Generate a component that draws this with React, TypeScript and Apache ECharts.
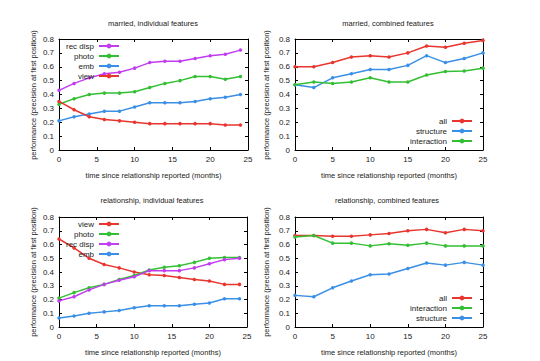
import React, { useEffect, useRef } from "react";
import * as echarts from "echarts";

// x positions
const monthsIndividual = [0, 2, 4, 6, 8, 10, 12, 14, 16, 18, 20, 22, 24];
const monthsCombined = [0, 2.5, 5, 7.5, 10, 12.5, 15, 17.5, 20, 22.5, 25];
const xTicks = [0, 5, 10, 15, 20, 25];
const yTicks = [0, 0.1, 0.2, 0.3, 0.4, 0.5, 0.6, 0.7, 0.8];

// married, individual features
const marriedRecDisp = [0.43, 0.48, 0.52, 0.55, 0.56, 0.59, 0.63, 0.64, 0.64, 0.66, 0.68, 0.69, 0.72];
const marriedPhoto = [0.33, 0.37, 0.40, 0.41, 0.41, 0.42, 0.45, 0.48, 0.50, 0.53, 0.53, 0.51, 0.53];
const marriedEmb = [0.21, 0.24, 0.26, 0.28, 0.28, 0.31, 0.34, 0.34, 0.34, 0.35, 0.37, 0.38, 0.40];
const marriedView = [0.35, 0.29, 0.24, 0.22, 0.21, 0.20, 0.19, 0.19, 0.19, 0.19, 0.19, 0.18, 0.18];

// married, combined features
const marriedAll = [0.60, 0.60, 0.63, 0.67, 0.68, 0.67, 0.70, 0.75, 0.74, 0.77, 0.79];
const marriedStructure = [0.47, 0.45, 0.52, 0.55, 0.58, 0.58, 0.61, 0.68, 0.63, 0.66, 0.70];
const marriedInteraction = [0.47, 0.49, 0.48, 0.49, 0.52, 0.49, 0.49, 0.54, 0.565, 0.57, 0.59];

// relationship, individual features
const relView = [0.64, 0.575, 0.50, 0.455, 0.43, 0.40, 0.38, 0.375, 0.36, 0.345, 0.335, 0.31, 0.31];
const relPhoto = [0.21, 0.25, 0.285, 0.31, 0.345, 0.375, 0.415, 0.435, 0.445, 0.47, 0.50, 0.505, 0.505];
const relRecDisp = [0.19, 0.22, 0.27, 0.31, 0.34, 0.365, 0.41, 0.41, 0.41, 0.43, 0.46, 0.49, 0.50];
const relEmb = [0.065, 0.08, 0.10, 0.11, 0.12, 0.14, 0.155, 0.155, 0.155, 0.165, 0.175, 0.205, 0.205];

// relationship, combined features
const relAll = [0.665, 0.665, 0.66, 0.66, 0.67, 0.68, 0.70, 0.71, 0.685, 0.71, 0.70];
const relInteraction = [0.655, 0.665, 0.61, 0.61, 0.59, 0.605, 0.595, 0.61, 0.59, 0.59, 0.59];
const relStructure = [0.23, 0.22, 0.285, 0.335, 0.38, 0.385, 0.425, 0.465, 0.45, 0.47, 0.45];

const titles = [
  "married, individual features",
  "married, combined features",
  "relationship, individual features",
  "relationship, combined features",
];
const xName = "time since relationship reported (months)";
const yName = "performance (precision at first position)";

const RED = "#e8352e";
const GREEN = "#33bf33";
const BLUE = "#3a8fe6";
const PURPLE = "#c23cf0";
const FONT = "Liberation Sans";

export default function App() {
  const ref = useRef<HTMLDivElement>(null);

  useEffect(() => {
    if (!ref.current) return;
    const chart = echarts.init(ref.current, undefined, { renderer: "svg" });

    const grids = [
      { left: 59, top: 39, width: 189, height: 111 },
      { left: 295, top: 39, width: 188, height: 111 },
      { left: 59, top: 217, width: 188, height: 110 },
      { left: 295, top: 217, width: 188, height: 110 },
    ];
    const titleCenters = [
      [153, 19],
      [388, 19],
      [152, 196],
      [387, 196],
    ];
    const yNamePos = [
      [33, 95],
      [266, 95],
      [33, 272],
      [266, 272],
    ];

    const axisTextColor = "#222";
    const xAxes: any[] = [];
    const yAxes: any[] = [];
    grids.forEach((_, i) => {
      xAxes.push({
        type: "value",
        gridIndex: i,
        min: xTicks[0],
        max: xTicks[xTicks.length - 1],
        interval: 5,
        name: xName,
        nameLocation: "middle",
        nameGap: 21,
        nameTextStyle: { fontSize: 7.5, fontFamily: FONT, color: axisTextColor },
        axisLine: { show: true, onZero: false, lineStyle: { color: "#000", width: 1 } },
        axisTick: { show: true, inside: true, length: 3, lineStyle: { color: "#000" } },
        axisLabel: { fontSize: 8, fontFamily: FONT, color: axisTextColor, margin: 5 },
        splitLine: { show: false },
      });
      yAxes.push({
        type: "value",
        gridIndex: i,
        min: yTicks[0],
        max: yTicks[yTicks.length - 1],
        interval: 0.1,
        axisLine: { show: true, onZero: false, lineStyle: { color: "#000", width: 1 } },
        axisTick: { show: true, inside: true, length: 3, lineStyle: { color: "#000" } },
        axisLabel: { fontSize: 8, fontFamily: FONT, color: axisTextColor, margin: 5 },
        splitLine: { show: false },
      });
    });
    // mirror axes (top / right) with inward ticks
    grids.forEach((_, i) => {
      xAxes.push({
        type: "value",
        gridIndex: i,
        position: "top",
        min: xTicks[0],
        max: xTicks[xTicks.length - 1],
        interval: 5,
        axisLine: { show: true, onZero: false, lineStyle: { color: "#000", width: 1 } },
        axisTick: { show: true, inside: true, length: 3, lineStyle: { color: "#000" } },
        axisLabel: { show: false },
        splitLine: { show: false },
      });
      yAxes.push({
        type: "value",
        gridIndex: i,
        position: "right",
        min: yTicks[0],
        max: yTicks[yTicks.length - 1],
        interval: 0.1,
        axisLine: { show: true, onZero: false, lineStyle: { color: "#000", width: 1 } },
        axisTick: { show: true, inside: true, length: 3, lineStyle: { color: "#000" } },
        axisLabel: { show: false },
        splitLine: { show: false },
      });
    });

    const mk = (name: string, xs: number[], ys: number[], color: string, idx: number) => ({
      type: "line",
      name,
      xAxisIndex: idx,
      yAxisIndex: idx,
      data: xs.map((x, k) => [x, ys[k]]),
      symbol: "circle",
      symbolSize: 3.5,
      showSymbol: true,
      lineStyle: { color, width: 1.5 },
      itemStyle: { color },
      z: 3,
    });

    const series = [
      mk("rec disp", monthsIndividual, marriedRecDisp, PURPLE, 0),
      mk("photo", monthsIndividual, marriedPhoto, GREEN, 0),
      mk("emb", monthsIndividual, marriedEmb, BLUE, 0),
      mk("view", monthsIndividual, marriedView, RED, 0),
      mk("all", monthsCombined, marriedAll, RED, 1),
      mk("structure", monthsCombined, marriedStructure, BLUE, 1),
      mk("interaction", monthsCombined, marriedInteraction, GREEN, 1),
      mk("view", monthsIndividual, relView, RED, 2),
      mk("photo", monthsIndividual, relPhoto, GREEN, 2),
      mk("rec disp", monthsIndividual, relRecDisp, PURPLE, 2),
      mk("emb", monthsIndividual, relEmb, BLUE, 2),
      mk("all", monthsCombined, relAll, RED, 3),
      mk("interaction", monthsCombined, relInteraction, GREEN, 3),
      mk("structure", monthsCombined, relStructure, BLUE, 3),
    ];

    const legendBase = {
      orient: "vertical",
      align: "right",
      itemWidth: 20,
      itemHeight: 6,
      itemGap: 0,
      padding: 0,
      selectedMode: false,
      textStyle: {
        fontSize: 8,
        fontFamily: FONT,
        color: axisTextColor,
        width: 44,
        lineHeight: 10,
        align: "right",
      },
    };

    const option: any = {
      animation: false,
      backgroundColor: "#fff",
      title: titles.map((t, i) => ({
        text: t,
        left: titleCenters[i][0],
        top: titleCenters[i][1],
        textAlign: "center",
        padding: 0,
        textStyle: { fontSize: 7.5, fontWeight: "normal", fontFamily: FONT, color: axisTextColor },
      })),
      grid: grids.map((g) => ({ ...g, show: false })),
      xAxis: xAxes,
      yAxis: yAxes,
      legend: [
        { ...legendBase, data: ["rec disp", "photo", "emb", "view"], right: 420, top: 41 },
        { ...legendBase, data: ["all", "structure", "interaction"], right: 67, top: 116 },
        { ...legendBase, data: ["view", "photo", "rec disp", "emb"], right: 420, top: 219 },
        { ...legendBase, data: ["all", "interaction", "structure"], right: 67, top: 293 },
      ],
      graphic: yNamePos.map(([x, y]) => ({
        type: "text",
        x,
        y,
        rotation: Math.PI / 2,
        style: {
          text: yName,
          fontSize: 7.5,
          fontFamily: FONT,
          fill: axisTextColor,
          align: "center",
          verticalAlign: "middle",
        },
      })),
      series,
    };

    chart.setOption(option);
    return () => chart.dispose();
  }, []);

  return (
    <div
      ref={ref}
      style={{ position: "fixed", left: 0, top: 0, width: 540, height: 361, background: "#fff" }}
    />
  );
}
